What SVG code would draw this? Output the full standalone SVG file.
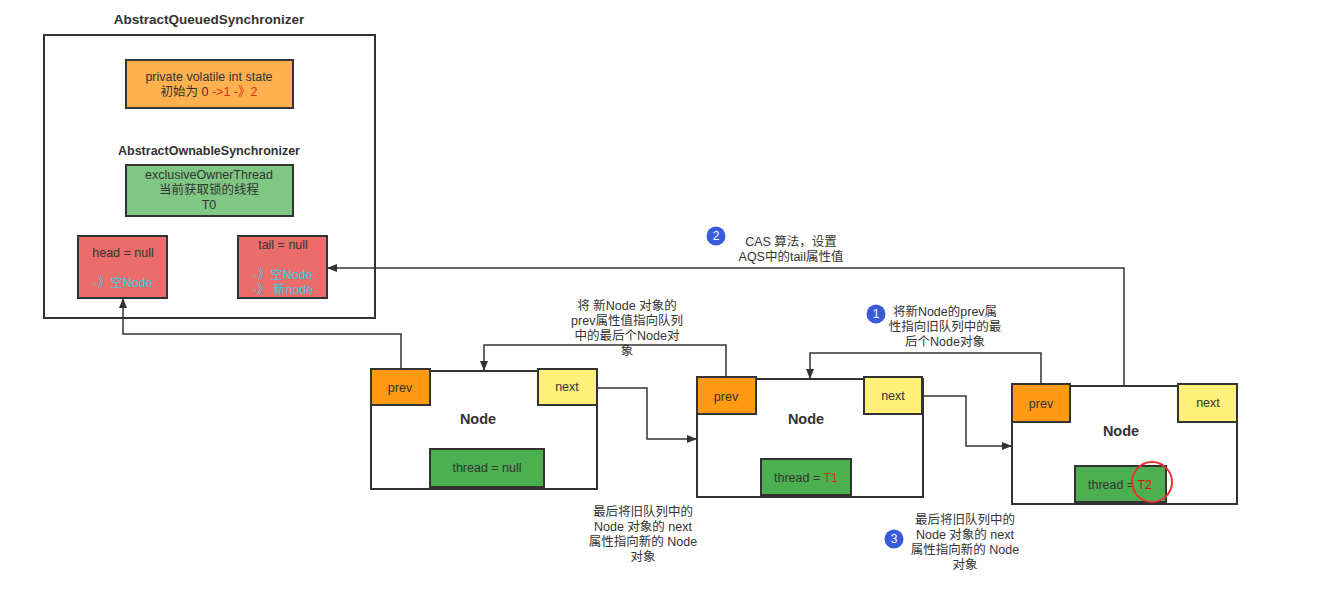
<svg xmlns="http://www.w3.org/2000/svg" width="1338" height="608" viewBox="0 0 1338 608">
<defs>
<style>
text{font-family:"Liberation Sans","Noto Sans CJK SC",sans-serif;font-size:12.5px;fill:#333;text-anchor:middle}
.b{font-weight:bold}
.t12{font-size:12.5px}
.t13{font-size:13.5px}
.t14{font-size:14.5px}
.box{stroke:#333;stroke-width:2}
.w{fill:#fff}
.st{fill:#ffb04f}
.gr{fill:#81c784}
.rd{fill:#ea6d69}
.pv{fill:#ff9a12}
.nx{fill:#fff07a}
.th{fill:#4caf50}
.red{fill:#e02e1a}
.cy{fill:#3cc8e0}
.num{fill:#3a5bd9}
.numt{fill:#fff;font-size:12px}
.c{fill:none;stroke:#333;stroke-width:1.5}
</style>
<marker id="a" markerWidth="10" markerHeight="10" refX="9" refY="5" orient="auto" markerUnits="userSpaceOnUse">
<path d="M0,1 L10,5 L0,9 Z" fill="#333"/>
</marker>
</defs>
<rect width="1338" height="608" fill="#fff"/>

<g id="aqs">
<text class="b t13" x="209" y="24">AbstractQueuedSynchronizer</text>
<rect class="box" x="44" y="35" width="331" height="283" fill="none"/>
</g>
<g id="state">
<rect class="box st" x="126" y="60" width="167" height="48"/>
<text x="209" y="81">private volatile int state</text>
<text x="209" y="96">初始为 0 <tspan class="red">-&gt;1 -》2</tspan></text>
</g>
<g id="aos">
<text class="b" x="209" y="155">AbstractOwnableSynchronizer</text>
<rect class="box gr" x="126" y="165" width="167" height="51"/>
<text x="209" y="179">exclusiveOwnerThread</text>
<text x="209" y="194">当前获取锁的线程</text>
<text x="209" y="209">T0</text>
</g>
<g id="head">
<rect class="box rd" x="78" y="236" width="89" height="62"/>
<text x="123" y="257">head = null</text>
<text class="cy" x="123" y="287">-》空Node</text>
</g>
<g id="tail">
<rect class="box rd" x="238" y="236" width="89" height="62"/>
<text x="283" y="249">tail = null</text>
<text class="cy" x="283" y="279">-》空Node</text>
<text class="cy" x="283" y="294">-》 新node</text>
</g>

<g id="node1">
<rect class="box w" x="371" y="371" width="226" height="118"/>
<rect class="box pv" x="371" y="369" width="59" height="36"/>
<text x="400" y="392">prev</text>
<rect class="box nx" x="538" y="369" width="59" height="36"/>
<text x="567" y="391">next</text>
<text class="b t14" x="478" y="424">Node</text>
<rect class="box th" x="430" y="449" width="114" height="38"/>
<text x="487" y="472">thread = null</text>
</g>
<g id="node2">
<rect class="box w" x="697" y="379" width="226" height="118"/>
<rect class="box pv" x="697" y="377" width="59" height="37"/>
<text x="726" y="401">prev</text>
<rect class="box nx" x="864" y="377" width="58" height="37"/>
<text x="893" y="400">next</text>
<text class="b t14" x="806" y="424">Node</text>
<rect class="box th" x="761" y="459" width="90" height="36"/>
<text x="806" y="482">thread = <tspan class="red">T1</tspan></text>
</g>
<g id="node3">
<rect class="box w" x="1012" y="386" width="225" height="118"/>
<rect class="box pv" x="1012" y="384" width="58" height="38"/>
<text x="1041" y="408">prev</text>
<rect class="box nx" x="1178" y="384" width="59" height="38"/>
<text x="1208" y="407">next</text>
<text class="b t14" x="1121" y="436">Node</text>
<rect class="box th" x="1075" y="466" width="91" height="36"/>
<text x="1120" y="489">thread = <tspan fill="#f00">T2</tspan></text>
<circle cx="1152" cy="482" r="20" fill="none" stroke="#f03030" stroke-width="2"/>
</g>

<g id="connectors">
<path class="c" d="M401,369 V334 H123 V299" marker-end="url(#a)"/>
<path class="c" d="M726,377 V345 H484 V370" marker-end="url(#a)"/>
<path class="c" d="M1041,384 V353 H810 V378" marker-end="url(#a)"/>
<path class="c" d="M1124,386 V268 H328" marker-end="url(#a)"/>
<path class="c" d="M597,388 H647 V439 H696" marker-end="url(#a)"/>
<path class="c" d="M922,396 H966 V446 H1011" marker-end="url(#a)"/>
</g>

<g id="labels">
<text x="627" y="310">将 新Node 对象的</text>
<text x="627" y="325">prev属性值指向队列</text>
<text x="627" y="340">中的最后个Node对</text>
<text x="627" y="355">象</text>

<circle class="num" cx="876" cy="314" r="9.5"/>
<text class="numt" x="876" y="318">1</text>
<text x="945" y="316">将新Node的prev属</text>
<text x="945" y="331">性指向旧队列中的最</text>
<text x="945" y="346">后个Node对象</text>

<circle class="num" cx="716" cy="236" r="9.5"/>
<text class="numt" x="716" y="240">2</text>
<text x="791" y="246">CAS 算法，设置</text>
<text x="791" y="261">AQS中的tail属性值</text>

<text x="643" y="516">最后将旧队列中的</text>
<text x="643" y="531">Node 对象的 next</text>
<text x="643" y="546">属性指向新的 Node</text>
<text x="643" y="561">对象</text>

<circle class="num" cx="894" cy="539" r="9.5"/>
<text class="numt" x="894" y="543">3</text>
<text x="965" y="524">最后将旧队列中的</text>
<text x="965" y="539">Node 对象的 next</text>
<text x="965" y="554">属性指向新的 Node</text>
<text x="965" y="569">对象</text>
</g>
</svg>
